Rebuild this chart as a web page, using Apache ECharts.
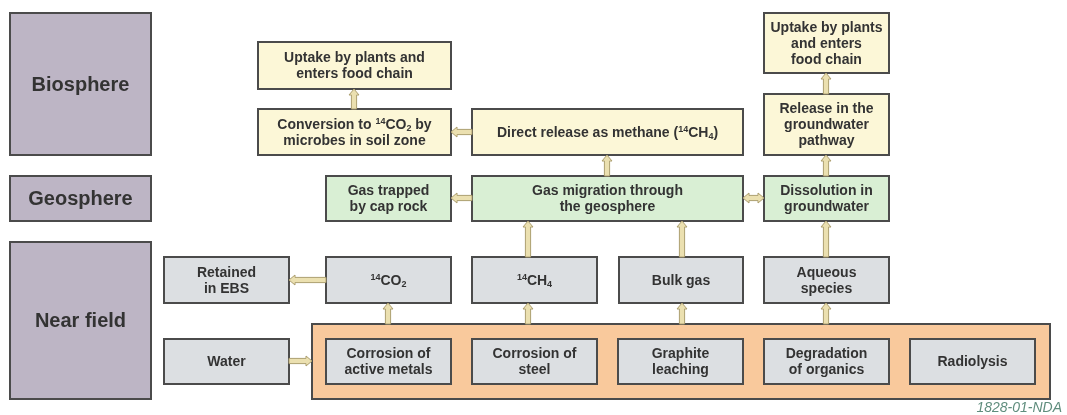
<!DOCTYPE html>
<html>
<head>
<meta charset="utf-8">
<title>Carbon-14 pathways</title>
<script src="https://cdn.jsdelivr.net/npm/echarts@6/dist/echarts.min.js"></script>
<style>
    html, body { margin: 0; padding: 0; background: #fff; }
    #chart { width: 1067px; height: 415px; }
</style>
</head>
<body>
<div id="chart"></div>
<script>
// boxes of the flow diagram, extents in diagram units (one unit = one pixel of the figure)
var boxLabels = [
    'Biosphere', 'Geosphere', 'Near field',
    '',
    'Uptake by plants and\nenters food chain',
    'Conversion to {s|14}CO{b|2} by\nmicrobes in soil zone',
    'Direct release as methane ({s|14}CH{b|4})',
    'Uptake by plants\nand enters\nfood chain',
    'Release in the\ngroundwater\npathway',
    'Gas trapped\nby cap rock',
    'Gas migration through\nthe geosphere',
    'Dissolution in\ngroundwater',
    'Retained\nin EBS',
    '{s|14}CO{b|2}',
    '{s|14}CH{b|4}',
    'Bulk gas',
    'Aqueous\nspecies',
    'Water',
    'Corrosion of\nactive metals',
    'Corrosion of\nsteel',
    'Graphite\nleaching',
    'Degradation\nof organics',
    'Radiolysis'
];
var boxKind = [
    'layer', 'layer', 'layer',
    'source',
    'bio', 'bio', 'bio', 'bio', 'bio',
    'geo', 'geo', 'geo',
    'near', 'near', 'near', 'near', 'near', 'near',
    'near', 'near', 'near', 'near', 'near'
];
var boxLeft   = [10, 10, 10, 312, 258, 258, 472, 764, 764, 326, 472, 764, 164, 326, 472, 619, 764, 164, 326, 472, 618, 764, 910];
var boxRight  = [151, 151, 151, 1050, 451, 451, 743, 889, 889, 451, 743, 889, 289, 451, 597, 743, 889, 289, 451, 597, 743, 889, 1035];
var boxTop    = [13, 176, 242, 324, 42, 109, 109, 13, 94, 176, 176, 176, 257, 257, 257, 257, 257, 339, 339, 339, 339, 339, 339];
var boxBottom = [155, 221, 399, 399, 89, 155, 155, 73, 155, 221, 221, 221, 303, 303, 303, 303, 303, 384, 384, 384, 384, 384, 384];

// arrows: start point -> end point, twoWay = heads at both ends
var arrowFromX = [354, 472, 607, 472, 743, 826, 826, 326, 528, 682, 826, 388, 528, 682, 826, 289];
var arrowFromY = [109, 132, 176, 198, 198, 176, 94, 280, 257, 257, 257, 324, 324, 324, 324, 361];
var arrowToX   = [354, 451, 607, 451, 764, 826, 826, 289, 528, 682, 826, 388, 528, 682, 826, 312];
var arrowToY   = [89, 132, 155, 198, 198, 155, 73, 280, 221, 221, 221, 303, 303, 303, 303, 361];
var arrowTwoWay = [0, 0, 0, 0, 1, 0, 0, 0, 0, 0, 0, 0, 0, 0, 0, 0];

var figureNote = '1828-01-NDA';

var fills = {
    layer: '#bdb5c5',
    source: '#f9c99c',
    bio: '#fcf7d7',
    geo: '#d9efd4',
    near: '#dcdfe2'
};

var chart = echarts.init(document.getElementById('chart'));

var boxData = boxLabels.map(function (t, i) {
    return [boxLeft[i], boxTop[i], boxRight[i], boxBottom[i], i];
});
var arrowData = arrowFromX.map(function (x, i) {
    return [x, arrowFromY[i], arrowToX[i], arrowToY[i], arrowTwoWay[i]];
});

function renderBox(params, api) {
    var p0 = api.coord([api.value(0), api.value(1)]);
    var p1 = api.coord([api.value(2), api.value(3)]);
    var idx = api.value(4);
    var kind = boxKind[idx];
    var big = kind === 'layer';
    var children = [{
        type: 'rect',
        shape: { x: p0[0], y: p0[1], width: p1[0] - p0[0], height: p1[1] - p0[1] },
        style: { fill: fills[kind], stroke: '#4b4b4b', lineWidth: 2 }
    }];
    if (boxLabels[idx]) {
        children.push({
            type: 'text',
            x: (p0[0] + p1[0]) / 2,
            y: (p0[1] + p1[1]) / 2 + 1,
            style: {
                text: boxLabels[idx],
                align: 'center',
                verticalAlign: 'middle',
                fill: '#333333',
                fontFamily: 'Liberation Sans, Arial, sans-serif',
                fontWeight: 'bold',
                fontSize: big ? 20 : 14,
                lineHeight: 16,
                rich: {
                    s: { fontSize: 9, fontWeight: 'bold', fontFamily: 'Liberation Sans', fill: '#333333', verticalAlign: 'top', lineHeight: 16 },
                    b: { fontSize: 9, fontWeight: 'bold', fontFamily: 'Liberation Sans', fill: '#333333', verticalAlign: 'bottom', lineHeight: 16 }
                }
            }
        });
    }
    return { type: 'group', children: children };
}

function renderArrow(params, api) {
    var s = api.coord([api.value(0), api.value(1)]);
    var e = api.coord([api.value(2), api.value(3)]);
    var both = api.value(4) === 1;
    var dx = e[0] - s[0], dy = e[1] - s[1];
    var len = Math.sqrt(dx * dx + dy * dy);
    var ux = dx / len, uy = dy / len;
    var nx = -uy, ny = ux;
    var w = 2.6, h = 5, L = 6;
    function pt(base, along, side) {
        return [base[0] + ux * along + nx * side, base[1] + uy * along + ny * side];
    }
    var pts = [];
    if (both) {
        pts.push(pt(s, 0, 0), pt(s, L, h), pt(s, L, w));
    } else {
        pts.push(pt(s, 0, w));
    }
    pts.push(pt(e, -L, w), pt(e, -L, h), pt(e, 0, 0), pt(e, -L, -h), pt(e, -L, -w));
    if (both) {
        pts.push(pt(s, L, -w), pt(s, L, -h));
    } else {
        pts.push(pt(s, 0, -w));
    }
    return {
        type: 'polygon',
        shape: { points: pts },
        style: { fill: '#ebe0b0', stroke: '#ad9f70', lineWidth: 1 }
    };
}

var option = {
    animation: false,
    backgroundColor: '#ffffff',
    grid: { left: 0, right: 0, top: 0, bottom: 0 },
    xAxis: { type: 'value', min: 0, max: 1067, show: false },
    yAxis: { type: 'value', min: 0, max: 415, inverse: true, show: false },
    graphic: [{
        type: 'text',
        right: 5,
        bottom: 0,
        style: {
            text: figureNote,
            fill: '#5f8d7d',
            fontFamily: 'Liberation Sans, Arial, sans-serif',
            fontStyle: 'italic',
            fontSize: 14
        }
    }],
    series: [{
        type: 'custom',
        renderItem: renderBox,
        data: boxData,
        silent: true,
        z: 2
    }, {
        type: 'custom',
        renderItem: renderArrow,
        data: arrowData,
        silent: true,
        z: 3
    }]
};

chart.setOption(option);
window.addEventListener('resize', chart.resize);
</script>
</body>
</html>
